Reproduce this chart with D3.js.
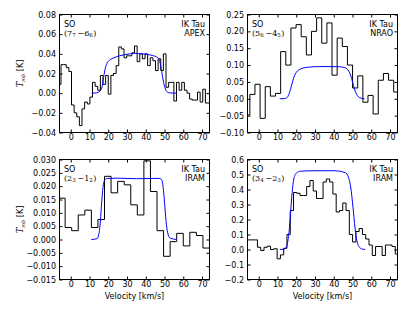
<!DOCTYPE html>
<html>
<head>
<meta charset="utf-8">
<script src="https://cdn.jsdelivr.net/npm/d3@7"></script>
<style>
body { margin: 0; background: #fff; }
svg { display: block; font-family: "DejaVu Sans", sans-serif; }
.axis text { font-size: 8px; font-family: "DejaVu Sans", sans-serif; fill: #000; }
.spec { fill: none; stroke: #000; stroke-width: 1; }
.model { fill: none; stroke: #0000ff; stroke-width: 1; }
.frame { fill: none; stroke: #000; stroke-width: 1; }
.lab { font-size: 8px; fill: #000; }
.math { font-family: "DejaVu Serif", serif; }
</style>
</head>
<body>
<div id="container"></div>
<script>
var width = 415,
	height = 312;

var xTicks = [0, 10, 20, 30, 40, 50, 60, 70];
var telescopes = ["APEX", "NRAO", "IRAM", "IRAM"];
// upper J, upper sub, lower J, lower sub
var transitions = [["7", "7", "6", "6"], ["5", "6", "4", "5"], ["2", "3", "1", "2"], ["3", "4", "2", "3"]];

// SO 7_7-6_6 APEX
var velApex = [-5.9, -4.5, -3.1, -1.7, -0.3, 1.1, 2.5, 3.9, 5.3, 6.7, 8.1, 9.5, 10.9, 12.3, 13.7, 15.1, 16.5, 17.9, 19.3, 20.7,
	22.1, 23.5, 24.9, 26.3, 27.7, 29.1, 30.5, 31.9, 33.3, 34.7, 36.1, 37.5, 38.9, 40.3, 41.7, 43.1, 44.5, 45.9, 47.3, 48.7,
	50.1, 51.5, 52.9, 54.3, 55.7, 57.1, 58.5, 59.9, 61.3, 62.7, 64.1, 65.5, 66.9, 68.3, 69.7, 71.1, 72.5, 73.9];
var tmbApex = [0.009, 0.029, 0.029, 0.026, 0.022, -0.012, -0.02, -0.024, -0.033, -0.016, -0.009, -0.011, -0.004, 0.011, 0.007, 0.003, 0.018, 0.009, 0.018, -0.001,
	0.018, 0.020, 0.028, 0.047, 0.045, 0.036, 0.038, 0.038, 0.041, 0.048, 0.032, 0.040, 0.035, 0.040, 0.028, 0.036, 0.033, 0.023, 0.035, 0.023,
	0.040, 0.006, 0.011, 0.011, -0.008, 0.011, 0.003, 0.011, 0.003, 0.000, -0.006, -0.007, -0.007, 0.001, -0.009, 0.004, -0.010, -0.010];
var modVelApex = [11.2, 13, 14.5, 15.5, 16.5, 17.5, 18.5, 19.5, 21, 23, 26, 30, 34, 38, 42, 45, 46.5, 47.5, 48.5, 49.5, 50.5, 51.5, 53, 56.5];
var modTmbApex = [0, 0.0002, 0.0008, 0.002, 0.005, 0.016, 0.026, 0.031, 0.034, 0.036, 0.038, 0.0395, 0.0405, 0.040, 0.039, 0.0375, 0.036, 0.032, 0.022, 0.011, 0.004, 0.0012, 0.0002, 0];
var yTicksApex = [-0.04, -0.02, 0, 0.02, 0.04, 0.06, 0.08];

// SO 5_6-4_5 NRAO
var velNrao = [-6.13, -3.39, -0.65, 2.09, 4.83, 7.57, 10.31, 13.05, 15.79, 18.53, 21.27, 24.01, 26.75, 29.49, 32.23,
	34.97, 37.71, 40.45, 43.19, 45.93, 48.67, 51.41, 54.15, 56.89, 59.63, 62.37, 65.11, 67.85, 70.59, 73.33];
var tmbNrao = [-0.048, 0.013, 0.043, -0.058, 0.036, 0.008, 0.016, 0.14, 0.10, 0.21, 0.22, 0.184, 0.13, 0.20, 0.24,
	0.165, 0.225, 0.07, 0.18, 0.155, 0.10, 0.032, 0.068, -0.01, 0.01, -0.045, 0.055, 0.075, 0.055, 0.02];
var modVelNrao = [11.2, 13.5, 15, 16, 17, 18, 19, 20, 21.5, 23.5, 27, 32, 38, 43, 45.5, 47, 48, 49, 50, 51, 52, 53, 54.5, 56.5];
var modTmbNrao = [0, 0.0005, 0.003, 0.012, 0.03, 0.05, 0.068, 0.078, 0.086, 0.091, 0.094, 0.0955, 0.0955, 0.095, 0.093, 0.089, 0.082, 0.07, 0.05, 0.03, 0.015, 0.007, 0.002, 0];
var yTicksNrao = [-0.10, -0.05, 0, 0.05, 0.10, 0.15, 0.20, 0.25];

// SO 2_3-1_2 IRAM
var velIram21 = [-4.75, -1.25, 2.25, 5.75, 9.25, 12.75, 16.25, 19.75, 23.25, 26.75, 30.25, 33.75, 37.25, 40.75, 44.25,
	47.75, 51.25, 54.75, 58.25, 61.75, 65.25, 68.75, 72.25];
var tmbIram21 = [0.0155, 0.0045, 0.0033, 0.0092, 0.011, 0.0045, 0.0075, 0.0237, 0.0175, 0.0218, 0.0205, 0.013, 0.0092, 0.0295, 0.018,
	0.0033, -0.0063, -0.0008, 0.0023, -0.0024, 0.0027, 0.0015, -0.0032];
var modVelIram21 = [11, 14, 15, 15.8, 16.5, 17.2, 18, 19.5, 25, 35, 44, 47.5, 48.5, 49.3, 50, 50.8, 51.7, 53, 56.5];
var modTmbIram21 = [0, 0.0003, 0.002, 0.007, 0.014, 0.0195, 0.0222, 0.0229, 0.023, 0.0228, 0.0229, 0.0229, 0.0224, 0.0195, 0.014, 0.007, 0.0025, 0.0005, 0];
var yTicksIram21 = [-0.015, -0.010, -0.005, 0, 0.005, 0.010, 0.015, 0.020, 0.025, 0.030];

// SO 3_4-2_3 IRAM
var velIram32 = [-5.1, -3.3, -1.6, 0.2, 1.9, 3.7, 5.4, 7.2, 8.9, 10.7, 12.4, 14.2, 15.9, 17.7, 19.4, 21.2, 22.9, 24.7, 26.4, 28.2,
	29.9, 31.7, 33.4, 35.2, 36.9, 38.7, 40.4, 42.2, 43.9, 45.7, 47.4, 49.2, 50.9, 52.7, 54.4, 56.2, 57.9, 59.7, 61.4, 63.2,
	64.9, 66.7, 68.4, 70.2, 71.9, 73.7];
var tmbIram32 = [0.064, 0.064, 0.064, 0.015, -0.007, 0.015, 0.022, 0.0, 0.005, -0.062, -0.036, 0.008, 0.10, 0.26, 0.38, 0.375, 0.36, 0.36, 0.42, 0.46,
	0.39, 0.34, 0.34, 0.45, 0.47, 0.45, 0.37, 0.25, 0.26, 0.31, 0.26, 0.10, 0.05, 0.12, 0.14, 0.10, 0.07, 0.03, -0.04, 0.02,
	0.02, -0.04, 0.03, 0.03, 0.02, -0.03];
var modVelIram32 = [11.3, 13.5, 14.5, 15.2, 16.1, 17.0, 17.8, 18.7, 20.1, 22.3, 30, 40, 46.1, 47.9, 49.1, 50.2, 51.4, 52.3, 53.7, 54.9, 56.7];
var modTmbIram32 = [0, 0.002, 0.012, 0.037, 0.11, 0.25, 0.38, 0.47, 0.51, 0.522, 0.525, 0.525, 0.513, 0.48, 0.41, 0.29, 0.137, 0.06, 0.015, 0.004, 0];
var yTicksIram32 = [-0.2, -0.1, 0, 0.1, 0.2, 0.3, 0.4, 0.5, 0.6];

var svg = d3.select("#container").append("svg")
	.attr("width", width)
	.attr("height", height);

function init() {
	var panels = [
		{id: 0, left: 59.5, top: 14.5, w: 150, h: 118, vel: velApex, tmb: tmbApex, mv: modVelApex, mt: modTmbApex, yTicks: yTicksApex, fmt: ".2f", ylab: true, xlab: false},
		{id: 1, left: 247.5, top: 14.5, w: 150, h: 118, vel: velNrao, tmb: tmbNrao, mv: modVelNrao, mt: modTmbNrao, yTicks: yTicksNrao, fmt: ".2f", ylab: false, xlab: false},
		{id: 2, left: 59.5, top: 159.5, w: 150, h: 120, vel: velIram21, tmb: tmbIram21, mv: modVelIram21, mt: modTmbIram21, yTicks: yTicksIram21, fmt: ".3f", ylab: true, xlab: true},
		{id: 3, left: 247.5, top: 159.5, w: 150, h: 120, vel: velIram32, tmb: tmbIram32, mv: modVelIram32, mt: modTmbIram32, yTicks: yTicksIram32, fmt: ".1f", ylab: false, xlab: true}
	];
	panels.forEach(drawPanel);
}

function drawPanel(p) {
	var g = svg.append("g")
		.attr("transform", "translate(" + p.left + "," + p.top + ")");

	var x = d3.scaleLinear().domain([-6, 74]).range([0, p.w]);
	var y = d3.scaleLinear().domain([p.yTicks[0], p.yTicks[p.yTicks.length - 1]]).range([p.h, 0]);

	g.append("clipPath")
		.attr("id", "clip" + p.id)
		.append("rect")
		.attr("width", p.w)
		.attr("height", p.h);

	// histogram steps: each channel drawn from edge to edge
	var steps = [];
	p.vel.forEach(function(v, i) {
		var n = p.vel.length;
		var lo = i == 0 ? v - (p.vel[1] - v) / 2 : (p.vel[i - 1] + v) / 2;
		var hi = i == n - 1 ? v + (v - p.vel[n - 2]) / 2 : (v + p.vel[i + 1]) / 2;
		steps.push([lo, p.tmb[i]], [hi, p.tmb[i]]);
	});

	var plot = g.append("g").attr("clip-path", "url(#clip" + p.id + ")");

	plot.append("path")
		.datum(steps)
		.attr("class", "spec")
		.attr("d", d3.line()
			.x(function(d) { return x(d[0]); })
			.y(function(d) { return y(d[1]); }));

	var model = p.mv.map(function(v, i) { return [v, p.mt[i]]; });
	plot.append("path")
		.datum(model)
		.attr("class", "model")
		.attr("d", d3.line()
			.curve(d3.curveMonotoneX)
			.x(function(d) { return x(d[0]); })
			.y(function(d) { return y(d[1]); }));

	// axes, ticks pointing inward on all four sides
	g.append("g")
		.attr("class", "axis")
		.attr("transform", "translate(0," + p.h + ")")
		.call(d3.axisBottom(x).tickValues(xTicks).tickSizeInner(-3).tickSizeOuter(0).tickPadding(1.5).tickFormat(d3.format("d")))
		.call(function(a) { a.select(".domain").remove(); });
	g.append("g")
		.attr("class", "axis")
		.call(d3.axisTop(x).tickValues(xTicks).tickSizeInner(-3).tickSizeOuter(0).tickFormat(""))
		.call(function(a) { a.select(".domain").remove(); });
	g.append("g")
		.attr("class", "axis")
		.call(d3.axisLeft(y).tickValues(p.yTicks).tickSizeInner(-3).tickSizeOuter(0).tickPadding(3.5).tickFormat(d3.format(p.fmt)))
		.call(function(a) { a.select(".domain").remove(); });
	g.append("g")
		.attr("class", "axis")
		.attr("transform", "translate(" + p.w + ",0)")
		.call(d3.axisRight(y).tickValues(p.yTicks).tickSizeInner(-3).tickSizeOuter(0).tickFormat(""))
		.call(function(a) { a.select(".domain").remove(); });

	g.append("rect")
		.attr("class", "frame")
		.attr("width", p.w)
		.attr("height", p.h);

	// labels inside the panel
	g.append("text")
		.attr("class", "lab")
		.attr("x", 4.5)
		.attr("y", 12)
		.text("SO");
	var tr = transitions[p.id];
	var t = g.append("text")
		.attr("class", "lab math")
		.attr("x", 4.5)
		.attr("y", 21)
		.style("font-size", "8px");
	t.append("tspan").text("(" + tr[0]);
	t.append("tspan").attr("dy", 1.8).style("font-size", "5.5px").text(tr[1]);
	t.append("tspan").attr("dy", -1.8).attr("dx", 1.8).text("\u2212" + tr[2]);
	t.append("tspan").attr("dy", 1.8).style("font-size", "5.5px").text(tr[3]);
	t.append("tspan").attr("dy", -1.8).attr("dx", 0.5).text(")");

	g.append("text")
		.attr("class", "lab")
		.attr("x", p.w - 4.5)
		.attr("y", 12)
		.style("text-anchor", "end")
		.text("IK Tau");
	g.append("text")
		.attr("class", "lab")
		.attr("x", p.w - 4.5)
		.attr("y", 21.5)
		.style("text-anchor", "end")
		.text(telescopes[p.id]);

	if (p.ylab) {
		var yl = svg.append("text")
			.attr("class", "lab")
			.attr("transform", "translate(23," + (p.top + p.h / 2) + ") rotate(-90)")
			.style("text-anchor", "middle");
		yl.append("tspan").attr("class", "math").style("font-style", "italic").style("font-size", "8.5px").text("T");
		yl.append("tspan").attr("class", "math").style("font-style", "italic").style("font-size", "5px").attr("dy", 1.8).text("mb");
		yl.append("tspan").attr("dy", -1.8).text(" [K]");
	}
	if (p.xlab) {
		svg.append("text")
			.attr("class", "lab")
			.attr("x", p.left + p.w / 2)
			.attr("y", p.top + p.h + 19.5)
			.style("text-anchor", "middle")
			.text("Velocity [km/s]");
	}
}

//runs on load
init();
</script>
</body>
</html>
